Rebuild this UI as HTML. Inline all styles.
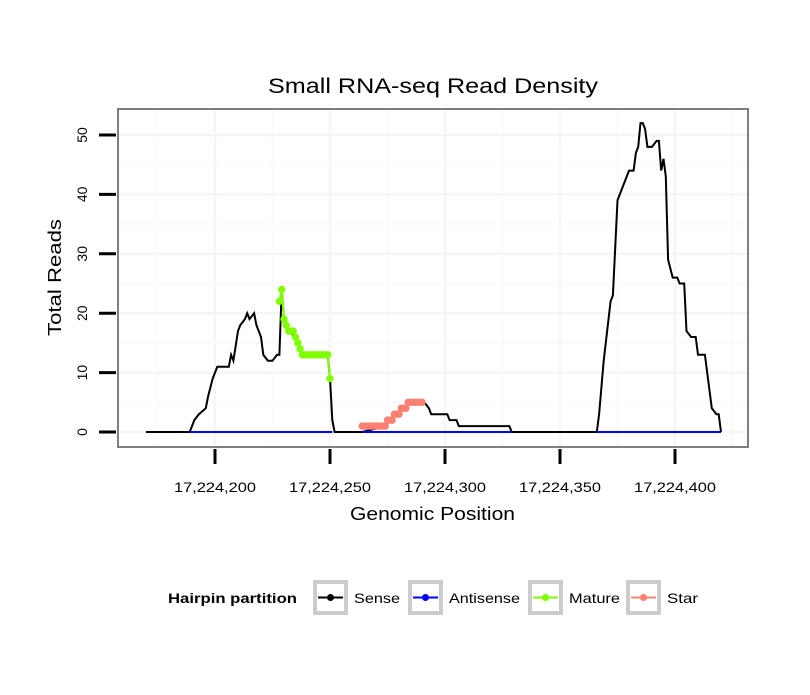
<!DOCTYPE html>
<html><head><meta charset="utf-8"><style>
body{margin:0;background:#fff}
svg text{font-family:"Liberation Sans",sans-serif}
</style></head><body>
<svg id="chart" width="810" height="690" viewBox="0 0 810 690" xmlns="http://www.w3.org/2000/svg">
<rect x="0" y="0" width="810" height="690" fill="#fff"/>
<text x="268" y="93" font-size="21" textLength="330" lengthAdjust="spacingAndGlyphs">Small RNA-seq Read Density</text>
<g id="grid"></g>
<g id="series"></g>
<rect x="118" y="109" width="630" height="338" fill="none" stroke="#7f7f7f" stroke-width="2"/>
<g id="axes"></g>
<text x="350" y="520" font-size="18" textLength="165" lengthAdjust="spacingAndGlyphs">Genomic Position</text>
<text transform="translate(61,336) rotate(-90)" font-size="18" textLength="117" lengthAdjust="spacingAndGlyphs">Total Reads</text>
<g>
<text x="168" y="603" font-size="14" font-weight="bold" textLength="129" lengthAdjust="spacingAndGlyphs">Hairpin partition</text>
<g id="legend"></g>
</g>
</svg>
<script>
const senseX=[170,189,190,191,193,196,197,199,201,206,207,208,210,211,213,214,215,217,218,220,221,223,225,227,228,229,230,231,232,235,236,237,238,249,250,251,252,264,274,275,277,278,280,281,283,284,291,293,294,301,302,305,306,328,329,366,367,369,372,373,375,376,380,382,383,384,385,386,387,388,390,392,393,394,395,396,397,399,401,402,404,405,407,409,410,413,414,416,418,419,420];
const senseY=[0,0,1,2,3,4,6,9,11,11,13,12,17,18,19,20,19,20,18,16,13,12,12,13,13,24,19,18,17,16,15,14,13,13,9,2,0,0,1,2,2,3,3,4,4,5,5,4,3,3,2,2,1,1,0,0,3,12,22,23,39,40,44,44,47,48,52,52,51,48,48,49,49,44,46,43,29,26,26,25,25,17,16,16,13,13,10,4,3,3,0];
const matureX=[228,229,230,231,232,233,234,235,236,237,238,239,240,241,242,243,244,245,246,247,248,249,250];
const matureY=[22,24,19,18,17,17,17,16,15,14,13,13,13,13,13,13,13,13,13,13,13,13,9];
const starX=[264,265,266,267,268,269,270,271,272,273,274,275,276,277,278,279,280,281,282,283,284,285,286,287,288,289,290];
const starY=[1,1,1,1,1,1,1,1,1,1,1,2,2,2,3,3,3,4,4,4,5,5,5,5,5,5,5];
const antisenseRanges=[[189,251],[264,329],[366,420]];
const xTicks=[200,250,300,350,400];
const yTicks=[0,10,20,30,40,50];
const BASE=17224000;
const xs=v=>215+(v-200)*2.3;
const ys=v=>432-v*5.94;
const NS="http://www.w3.org/2000/svg";
function mk(tag,attrs,parent){const e=document.createElementNS(NS,tag);for(const k in attrs)e.setAttribute(k,attrs[k]);parent.appendChild(e);return e;}
const grid=document.getElementById('grid'),ser=document.getElementById('series'),axes=document.getElementById('axes'),leg=document.getElementById('legend');
for(const t of xTicks){
 let g=mk('line',{x1:xs(t),x2:xs(t),y1:110,y2:446,stroke:'#f5f5f5','stroke-width':2.5},grid);
 
 
}
const xmin=[175,225,275,325,375,425];
for(const t of xmin){
 let g=mk('line',{x1:xs(t),x2:xs(t),y1:110,y2:446,stroke:'#fafafa','stroke-width':2},grid);
 
 
}
for(const t of yTicks){
 let g=mk('line',{x1:119,x2:747,y1:ys(t),y2:ys(t),stroke:'#f5f5f5','stroke-width':2.5},grid);
 
 
 let m=mk('line',{x1:119,x2:747,y1:ys(t+5),y2:ys(t+5),stroke:'#fafafa','stroke-width':2},grid);
 
 
}
for(const t of xTicks){
 let l=mk('line',{x1:xs(t),x2:xs(t),y1:449,y2:464,stroke:'#000','stroke-width':3},axes);
 
 
 let tx=mk('text',{x:xs(t)-41,y:492,'font-size':14,textLength:82,lengthAdjust:'spacingAndGlyphs'},axes);
 tx.textContent=(BASE+t).toLocaleString('en-US');
 
 
}
for(const t of yTicks){
 let l=mk('line',{x1:99,x2:116,y1:ys(t),y2:ys(t),stroke:'#000','stroke-width':3},axes);
 
 
 let tx=mk('text',{x:0,y:0,'font-size':14,'text-anchor':'middle',transform:`translate(87,${ys(t)}) rotate(-90)`},axes);
 tx.textContent=t;
 
 
}
const pts=(X,Y)=>X.map((x,i)=>xs(x).toFixed(1)+','+ys(Y[i]).toFixed(1)).join(' ');
let sl=mk('polyline',{points:pts(senseX,senseY),fill:'none',stroke:'#000','stroke-width':2},ser);


for(const r of antisenseRanges){
 let a=mk('line',{x1:xs(r[0]),x2:xs(r[1]),y1:ys(0),y2:ys(0),stroke:'#0000ff','stroke-width':2},ser);
 
 
}
function dots(X,Y,col,name){
 mk('polyline',{points:pts(X,Y),fill:'none',stroke:col,'stroke-width':2},ser);
 X.forEach((x,i)=>{let c=mk('circle',{cx:xs(x),cy:ys(Y[i]),r:3.7,fill:col},ser);
  
  });
}
dots(matureX,matureY,'#7fff00','mature-point');
dots(starX,starY,'#fa8072','star-point');
const legItems=[['Sense','#000',313,46],['Antisense','#0000ff',408,71],['Mature','#7fff00',528,51],['Star','#fa8072',626,31]];
for(const [lab,col,x0,w] of legItems){
 let b=mk('rect',{x:x0+2,y:582,width:31,height:31,fill:'#fff',stroke:'#cccccc','stroke-width':4},leg);
 
 
 mk('line',{x1:x0+5,x2:x0+30,y1:597.5,y2:597.5,stroke:col,'stroke-width':2},leg);
 mk('circle',{cx:x0+17.5,cy:597.5,r:3.5,fill:col},leg);
 let t=mk('text',{x:x0+41,y:603,'font-size':14,textLength:w,lengthAdjust:'spacingAndGlyphs'},leg);
 t.textContent=lab;
 
 
}
</script>
</body></html>
